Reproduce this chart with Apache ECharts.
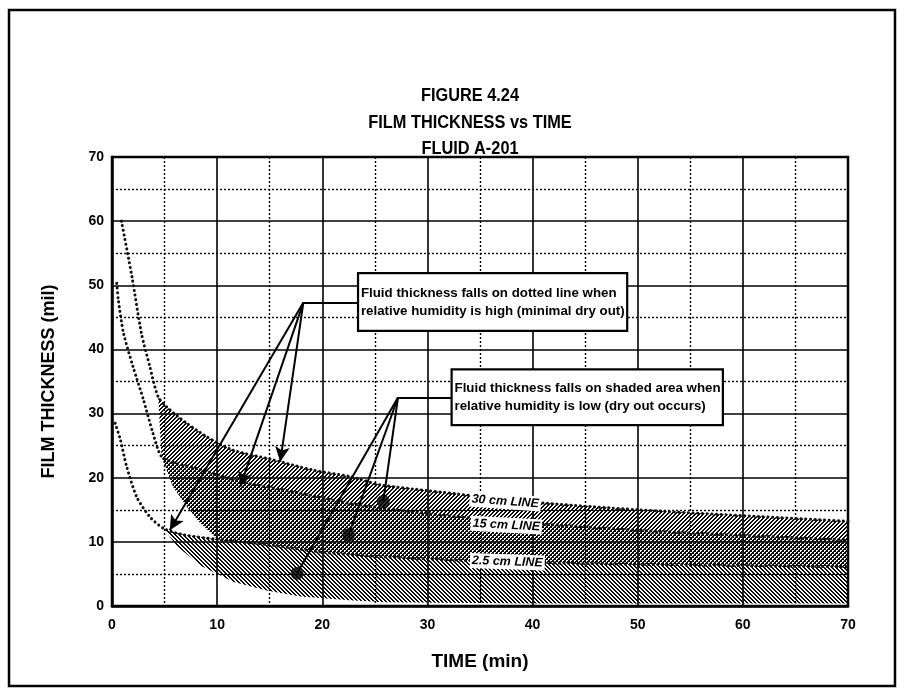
<!DOCTYPE html>
<html><head><meta charset="utf-8">
<script src="https://cdn.jsdelivr.net/npm/echarts@6/dist/echarts.min.js"></script>
<style>html,body{margin:0;padding:0;background:#fff}#c{width:905px;height:694px}</style>
</head><body><div id="c"></div>
<script>
// ---------- data ----------
const titleLines = ['FIGURE 4.24', 'FILM THICKNESS vs TIME', 'FLUID A-201'];
const xName = 'TIME (min)';
const yName = 'FILM THICKNESS (mil)';
const xTicks = [0, 10, 20, 30, 40, 50, 60, 70];
const yTicks = [0, 10, 20, 30, 40, 50, 60, 70];

// dotted (no dry-out) curves: [time, thickness]
const line30 = [[0.9,60],[1.9,51.3],[2.8,42.5],[3.6,37.3],[4.4,32.6],[5.5,30.6],[7.1,28.5],[9,26.4],[11.5,24.3],[15.3,22.8],[19.1,21.2],[22.6,20.2],[25.5,18.9],[30,18.0],[40,16.2],[50,15.0],[60,14.1],[70,13.2]];
const line15 = [[0.45,50.3],[0.6,47.7],[1.1,42.5],[2,37.3],[3,32.1],[3.9,26.9],[4.7,23.3],[6,22.3],[8.4,21.3],[12.2,19.4],[17.9,17.6],[22.6,16.0],[30,14.4],[40,12.9],[50,11.8],[60,11.0],[70,10.3]];
const line25 = [[0.3,28.5],[0.8,25.9],[1.4,21.7],[2.35,17.0],[3.6,13.9],[4.9,12.1],[6.8,11.1],[10,10.4],[14.7,9.6],[20,8.4],[25.5,7.7],[37,6.9],[50,6.5],[60,6.3],[70,6.1]];
// dry-out (shaded) band lower edges
const band15LowerEdge = [[5.8,18.6],[7.1,15.5],[8.4,12.9],[9.6,11.1]];
const band25Lower = [[6.2,9.3],[8.4,6.3],[11.5,3.8],[14.7,2.4],[17.9,1.5],[22.6,0.9],[26,0.6],[40,0.4],[70,0.4]];
const bandStart = {a30: 4.4, a15: 4.7, b25: 4.9, b25join: 10};

// line labels [x, y, text, rotate]
const lineLabels = [[37.4,16.3,'30 cm LINE',-4],[37.5,12.6,'15 cm LINE',-3],[37.6,6.9,'2.5 cm LINE',-2]];

// annotations
const note1Text = 'Fluid thickness falls on dotted line when\nrelative humidity is high (minimal dry out)';
const note2Text = 'Fluid thickness falls on shaded area when\nrelative humidity is low (dry out occurs)';
const note1Box = [[23.4,51.9],[49.0,42.9]];
const note2Box = [[32.3,36.9],[58.1,28.2]];
const hub1 = [18.2,47.3];
const hub2 = [27.2,32.5];
const arrowTips = [[5.5,11.8],[12.2,18.6],[16.0,22.5]];
const dots = [[17.6,5.1],[22.5,11.1],[25.8,16.3]];

// ---------- patterns ----------
function makePattern(fn, size) {
  const c = document.createElement('canvas');
  c.width = c.height = size;
  const ctx = c.getContext('2d');
  const img = ctx.createImageData(size, size);
  for (let j = 0; j < size; j++) for (let i = 0; i < size; i++) {
    const k = (j * size + i) * 4;
    const on = fn(i, j);
    img.data[k] = img.data[k + 1] = img.data[k + 2] = 10;
    img.data[k + 3] = on ? 255 : 0;
  }
  ctx.putImageData(img, 0, 0);
  return { image: c, repeat: 'repeat' };
}
const m4 = v => ((v % 4) + 4) % 4;
const patFwd = makePattern((i, j) => m4(i + j) < 2, 4);      // ////
const patBack = makePattern((i, j) => m4(i - j) < 2, 4);     // \\\\
const patDense = makePattern((i, j) => m4(i + j) < 2 || m4(i - j) === 0, 4);

function bandSeries(upper, lower, pattern) {
  const pts = upper.concat(lower.slice().reverse());
  return {
    type: 'custom', data: pts, z: 2, silent: true, clip: true,
    encode: { x: 0, y: 1 },
    renderItem(params, api) {
      if (params.dataIndex !== 0) return null;
      return { type: 'polygon', shape: { points: pts.map(p => api.coord(p)) },
               style: { fill: pattern, stroke: null } };
    }
  };
}
const bandA = bandSeries(line30.filter(p => p[0] >= bandStart.a30), line15.filter(p => p[0] >= bandStart.a15), patFwd);
const bandB = bandSeries(line15.filter(p => p[0] >= bandStart.a15), band15LowerEdge.concat(line25.filter(p => p[0] >= bandStart.b25join)), patDense);
const bandC = bandSeries(line25.filter(p => p[0] >= bandStart.b25), band25Lower, patBack);

function dotted(data) {
  return { type: 'line', data, showSymbol: false, smooth: 0.25, silent: true, z: 4,
    lineStyle: { color: '#111', width: 3, type: [0.1, 4.6], cap: 'round' } };
}

const axisFont = { fontFamily: 'Liberation Sans, Arial, sans-serif', fontWeight: 'bold', color: '#000' };

const option = {
  animation: false,
  backgroundColor: '#fff',
  grid: { left: 112, right: 57, top: 157, bottom: 88, show: true, borderColor: '#000', borderWidth: 2.5, backgroundColor: 'transparent' },
  xAxis: {
    type: 'value', min: xTicks[0], max: xTicks[xTicks.length - 1], interval: 10,
    name: xName, nameLocation: 'middle', nameGap: 46,
    nameTextStyle: { fontSize: 19, fontFamily: 'Liberation Sans, Arial, sans-serif', fontWeight: 'bold', color: '#000' },
    axisLine: { show: true, lineStyle: { color: '#000', width: 2.5 } },
    axisTick: { show: false },
    axisLabel: Object.assign({ fontSize: 14, margin: 12 }, axisFont),
    splitLine: { show: true, lineStyle: { color: '#000', width: 1.6 } },
    minorTick: { show: false, splitNumber: 2 },
    minorSplitLine: { show: true, lineStyle: { color: '#000', width: 1.4, type: [2, 2] } }
  },
  yAxis: {
    type: 'value', min: yTicks[0], max: yTicks[yTicks.length - 1], interval: 10,
    name: yName, nameLocation: 'middle', nameGap: 54,
    nameTextStyle: { fontSize: 18, fontFamily: 'Liberation Sans, Arial, sans-serif', fontWeight: 'bold', color: '#000' },
    axisLine: { show: true, lineStyle: { color: '#000', width: 2.5 } },
    axisTick: { show: false },
    axisLabel: Object.assign({ fontSize: 14, margin: 8 }, axisFont),
    splitLine: { show: true, lineStyle: { color: '#000', width: 1.6 } },
    minorTick: { show: false, splitNumber: 2 },
    minorSplitLine: { show: true, lineStyle: { color: '#000', width: 1.4, type: [2, 2] } }
  },
  graphic: [{
    type: 'rect', shape: { x: 9, y: 10, width: 886, height: 676 },
    style: { fill: null, stroke: '#000', lineWidth: 2.5 }, silent: true, z: 100
  }].concat(titleLines.map((t, i) => ({
    type: 'text', x: 470, y: 96 + i * 26.5, scaleX: 0.86, silent: true, z: 100,
    style: { text: t, align: 'center', verticalAlign: 'middle', fill: '#000',
      font: 'bold 19px "Liberation Sans", Arial, sans-serif' }
  }))),
  series: [
    bandC, bandB, bandA,
    dotted(line30), dotted(line15), dotted(line25),
    {
      type: 'scatter', data: lineLabels.map(l => ({ value: [l[0], l[1]], name: l[2],
        label: { rotate: l[3] } })),
      symbol: 'rect', symbolSize: 1, silent: true, z: 6,
      itemStyle: { color: 'rgba(0,0,0,0)' },
      label: { show: true, position: 'inside', formatter: p => p.name, color: '#000', opacity: 1,
        fontFamily: 'Liberation Sans, Arial, sans-serif', fontStyle: 'italic', fontWeight: 'bold', fontSize: 12.5,
        textBorderWidth: 0, backgroundColor: '#ffffff', padding: [1, 2] },
      emphasis: { disabled: true }
    },
    {
      type: 'scatter', data: dots, symbol: 'circle', symbolSize: 13, z: 8, silent: true,
      itemStyle: { color: '#000' },
      markLine: {
        silent: true, symbol: ['none', 'arrow'], symbolSize: [11, 15], precision: 2,
        label: { show: false },
        lineStyle: { color: '#000', width: 2, type: 'solid' },
        data: arrowTips.map(t => [{ coord: hub1 }, { coord: t }])
          .concat([[{ coord: hub1, symbol: 'none' }, { coord: [note1Box[0][0], hub1[1]], symbol: 'none' }]])
          .concat([[{ coord: hub2, symbol: 'none' }, { coord: [note2Box[0][0], hub2[1]], symbol: 'none' }]])
          .concat(dots.map(d => [{ coord: hub2, symbol: 'none' }, { coord: d, symbol: 'none' }]))
      },
      markArea: {
        silent: true,
        itemStyle: { color: '#fff', borderColor: '#000', borderWidth: 2.2 },
        label: { show: true, position: 'insideLeft', distance: 4, color: '#000',
          fontFamily: 'Liberation Sans, Arial, sans-serif', fontWeight: 'bold', fontSize: 13.3, lineHeight: 18, align: 'left' },
        data: [
          [{ coord: note1Box[0], name: note1Text }, { coord: note1Box[1] }],
          [{ coord: note2Box[0], name: note2Text }, { coord: note2Box[1] }]
        ]
      }
    }
  ]
};
const chart = echarts.init(document.getElementById('c'), null, { renderer: 'canvas' });
chart.setOption(option);
</script>
</body></html>
